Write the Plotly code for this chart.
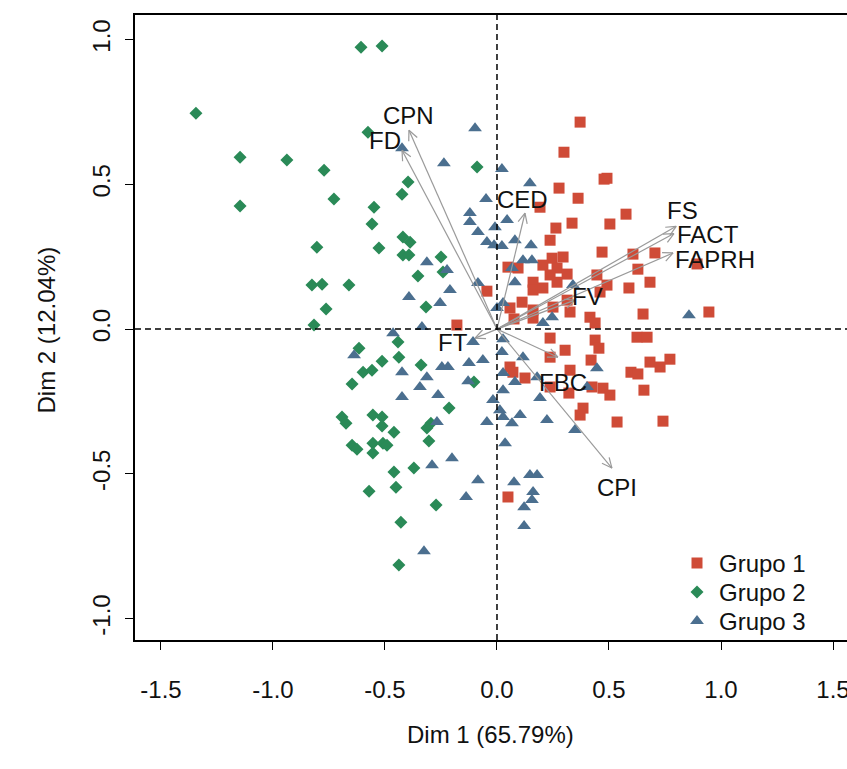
import math
import plotly.graph_objects as go

# ---------------- data ----------------
g1_x = [0.371, 0.299, 0.491, 0.277, 0.362, 0.478, 0.504, 0.335, 0.263, 0.237, 0.192, 0.469, 0.295, 0.246,
        0.205, 0.268, 0.049, 0.094, 0.313, 0.237, 0.446, 0.268, 0.161, 0.491, 0.161, 0.205, -0.045, 0.460,
        0.313, 0.112, 0.058, 0.161, 0.250, 0.326, 0.415, 0.438, 0.076, 0.161, -0.179,
        0.576, 0.607, 0.705, 0.893, 0.629, 0.589, 0.683, 0.652, 0.946, 0.625, 0.670,
        0.237, 0.304, 0.237, 0.438, 0.455, 0.420, 0.326, 0.058, 0.071, 0.125, 0.237, 0.321, 0.424, 0.473,
        0.504, 0.384, 0.371, 0.049,
        0.772, 0.683, 0.728, 0.598, 0.629, 0.656, 0.536, 0.741]
g1_y = [0.715, 0.611, 0.521, 0.487, 0.452, 0.518, 0.363, 0.366, 0.349, 0.307, 0.421, 0.266, 0.249, 0.245,
        0.221, 0.211, 0.214, 0.211, 0.190, 0.187, 0.187, 0.162, 0.162, 0.152, 0.135, 0.142, 0.131, 0.128,
        0.100, 0.093, 0.073, 0.066, 0.076, 0.059, 0.041, 0.021, 0.035, 0.038, 0.014,
        0.397, 0.259, 0.263, 0.225, 0.207, 0.142, 0.162, 0.052, 0.059, -0.028, -0.028,
        -0.031, -0.073, -0.097, -0.038, -0.066, -0.107, -0.142, -0.131, -0.149, -0.169, -0.200, -0.221, -0.200, -0.204,
        -0.228, -0.273, -0.297, -0.580,
        -0.104, -0.114, -0.131, -0.149, -0.155, -0.211, -0.321, -0.318]

g2_x = [-1.344, -1.147, -1.147, -0.938, -0.772, -0.607, -0.513, -0.576, -0.728, -0.549, -0.558, -0.804,
        -0.826, -0.781, -0.661, -0.763, -0.817, -0.089, -0.397, -0.424, -0.420, -0.388, -0.527, -0.420,
        -0.393, -0.250, -0.241, -0.353, -0.317,
        -0.616, -0.598, -0.558, -0.647, -0.692, -0.674, -0.554, -0.647, -0.625, -0.554, -0.554, -0.571,
        -0.442, -0.438, -0.513, -0.339, -0.103, -0.214, -0.513, -0.513, -0.460, -0.295, -0.313, -0.304,
        -0.509, -0.491, -0.460, -0.371, -0.451, -0.272, -0.429, -0.438]
g2_y = [0.746, 0.594, 0.425, 0.584, 0.549, 0.974, 0.978, 0.680, 0.449, 0.421, 0.363, 0.283,
        0.152, 0.155, 0.152, 0.069, 0.014, 0.560, 0.508, 0.466, 0.318, 0.300, 0.280, 0.256,
        0.256, 0.249, 0.197, 0.183, 0.076,
        -0.066, -0.149, -0.142, -0.190, -0.304, -0.325, -0.297, -0.401, -0.415, -0.394, -0.428, -0.560,
        -0.045, -0.097, -0.111, -0.124, -0.183, -0.273, -0.304, -0.335, -0.356, -0.325, -0.342, -0.387,
        -0.394, -0.401, -0.494, -0.480, -0.546, -0.608, -0.667, -0.815]

g3_x = [-0.098, -0.424, -0.237, 0.022, 0.147, -0.049, -0.121, -0.121, 0.045, -0.009, -0.085, -0.045,
        -0.013, 0.022, 0.080, 0.152, 0.116, 0.156, 0.067, -0.313, -0.223, 0.080, -0.085, -0.210, -0.393,
        -0.254, 0.000, 0.027, 0.339, 0.205, 0.246, -0.335, -0.464, 0.857, -0.638,
        0.027, -0.107, 0.022, 0.116, -0.063, -0.125, -0.219, -0.246, -0.424, -0.313, -0.344, 0.027, 0.080,
        -0.129, -0.263, -0.424, 0.027, 0.179, 0.192, 0.446, 0.402, -0.018, 0.013, 0.027, 0.067, 0.103,
        -0.045, 0.223, 0.348, -0.268, 0.036, -0.201, -0.290, -0.085, 0.076, 0.147, 0.179, 0.161, -0.138,
        0.121, 0.156, 0.121, -0.326]
g3_y = [0.694, 0.625, 0.573, 0.553, 0.504, 0.449, 0.401, 0.370, 0.377, 0.352, 0.335, 0.301,
        0.290, 0.287, 0.307, 0.290, 0.238, 0.238, 0.211, 0.231, 0.204, 0.162, 0.159, 0.135, 0.111,
        0.090, 0.073, 0.090, 0.152, 0.021, 0.041, 0.007, -0.014, 0.048, -0.090,
        -0.035, -0.045, -0.079, -0.097, -0.107, -0.117, -0.131, -0.131, -0.149, -0.166, -0.200, -0.152, -0.183,
        -0.180, -0.228, -0.235, -0.211, -0.166, -0.238, -0.135, -0.200, -0.245, -0.280, -0.304, -0.325, -0.297,
        -0.321, -0.314, -0.349, -0.321, -0.394, -0.446, -0.470, -0.522, -0.529, -0.504, -0.504, -0.563, -0.580,
        -0.615, -0.590, -0.680, -0.767]

var_names = ["CPN", "FD", "CED", "FS", "FACT", "FAPRH", "FV", "FT", "FBC", "CPI"]
var_x = [-0.393, -0.424, 0.125, 0.800, 0.790, 0.786, 0.348, -0.098, 0.272, 0.513]
var_y = [0.687, 0.618, 0.401, 0.355, 0.330, 0.263, 0.100, -0.031, -0.097, -0.480]
lab_x = [-0.397, -0.500, 0.116, 0.826, 0.942, 0.973, 0.402, -0.196, 0.295, 0.536]
lab_y = [0.739, 0.653, 0.446, 0.410, 0.328, 0.242, 0.111, -0.045, -0.183, -0.546]

group_names = ["Grupo 1", "Grupo 2", "Grupo 3"]
x_ticks = [-1.5, -1.0, -0.5, 0.0, 0.5, 1.0, 1.5]
y_ticks = [-1.0, -0.5, 0.0, 0.5, 1.0]

# ---------------- layout geometry ----------------
W, H = 847, 769
ML, MR, MT, MB = 135, 0, 15, 129
x_range = [-1.616, 1.5625]
y_range = [-1.074, 1.085]
plot_w = W - ML - MR
plot_h = H - MT - MB
sx = plot_w / (x_range[1] - x_range[0])
sy = plot_h / (y_range[1] - y_range[0])

RED, GREEN, BLUE = "#CF4B37", "#2A8A57", "#4B6F8F"
COLORS = [RED, GREEN, BLUE]
SYMBOLS = ["square", "diamond", "triangle-up"]
SIZES = [11, 10, 12]
FONT = "Liberation Sans, Arial, sans-serif"
TXT = "#111111"
FS = 24

fig = go.Figure()
for name, gx, gy, col, sym, sz in zip(group_names, [g1_x, g2_x, g3_x], [g1_y, g2_y, g3_y],
                                      COLORS, SYMBOLS, SIZES):
    fig.add_trace(go.Scatter(x=gx, y=gy, mode="markers", name=name, showlegend=False,
                             marker=dict(symbol=sym, size=sz, color=col, opacity=1, line=dict(width=0))))

# arrows (shaft + open V head), computed from variable coordinates
ax_, ay_ = [], []
L, A = 11.0, math.radians(25)
for vx, vy in zip(var_x, var_y):
    ax_ += [0, vx, None]
    ay_ += [0, vy, None]
    px, py = vx * sx, vy * sy
    th = math.atan2(py, px)
    for s in (1, -1):
        hx = px - L * math.cos(th + s * A)
        hy = py - L * math.sin(th + s * A)
        ax_ += [vx, hx / sx, None]
        ay_ += [vy, hy / sy, None]
fig.add_trace(go.Scatter(x=ax_, y=ay_, mode="lines", showlegend=False, hoverinfo="skip",
                         line=dict(color="#9a9a9a", width=1.2)))

for n, lx, ly in zip(var_names, lab_x, lab_y):
    fig.add_annotation(x=lx, y=ly, text=n, showarrow=False, xref="x", yref="y",
                       font=dict(family=FONT, size=FS, color=TXT))

# manual legend on a pixel-based overlay axis (R-style compact rows)
leg_mx, leg_tx, leg_y0, leg_dy = 697, 717, 563, 29
fig.add_trace(go.Scatter(
    x=[leg_mx] * 3, y=[leg_y0 + i * leg_dy for i in range(3)], xaxis="x2", yaxis="y2",
    mode="markers", showlegend=False, hoverinfo="skip",
    marker=dict(symbol=SYMBOLS, size=SIZES, color=COLORS, opacity=1, line=dict(width=0))))
for i, name in enumerate(group_names):
    fig.add_annotation(x=leg_tx, y=leg_y0 + i * leg_dy, xref="x2", yref="y2", text=name,
                       showarrow=False, xanchor="left", yanchor="middle",
                       font=dict(family=FONT, size=FS, color=TXT))

# dashed zero lines
fig.add_shape(type="line", xref="x", yref="paper", x0=0, x1=0, y0=0, y1=1,
              line=dict(color="black", width=1.5, dash="6px,4px"))
fig.add_shape(type="line", xref="paper", yref="y", x0=0, x1=1, y0=0, y1=0,
              line=dict(color="black", width=1.5, dash="6px,4px"))

# axis titles
fig.add_annotation(x=(490 - ML) / plot_w, y=(MT + plot_h - 750) / plot_h, xref="paper", yref="paper",
                   text="Dim 1 (65.79%)", showarrow=False, font=dict(family=FONT, size=FS, color=TXT))
fig.add_annotation(x=(30 - ML) / plot_w, y=(MT + plot_h - 330) / plot_h, xref="paper", yref="paper",
                   text="Dim 2 (12.04%)", showarrow=False, textangle=-90,
                   font=dict(family=FONT, size=FS, color=TXT))

fig.update_layout(
    template="none",
    width=W, height=H, margin=dict(l=ML, r=MR, t=MT, b=MB, autoexpand=False),
    paper_bgcolor="white", plot_bgcolor="white",
    font=dict(family=FONT, size=FS, color=TXT),
    showlegend=False,
    xaxis=dict(range=x_range, tickvals=x_ticks, ticktext=[f"{v:.1f}" for v in x_ticks],
               showgrid=False, zeroline=False, showline=True, mirror=True, linecolor="black", linewidth=1.5,
               ticks="outside", ticklen=8, tickcolor="black", tickwidth=1, ticklabelstandoff=19,
               ticklabeloverflow="allow", automargin=False),
    yaxis=dict(range=y_range, tickvals=y_ticks, ticktext=[f"{v:.1f}" for v in y_ticks],
               showgrid=False, zeroline=False, showline=True, mirror=False, linecolor="black", linewidth=1.5,
               ticks="outside", ticklen=8, tickcolor="black", tickwidth=1, tickangle=-90,
               ticklabelstandoff=6, automargin=False),
    xaxis2=dict(overlaying="x", range=[ML, W - MR], visible=False, fixedrange=True, automargin=False),
    yaxis2=dict(overlaying="y", range=[MT + plot_h, MT], visible=False, fixedrange=True, automargin=False),
)

fig.write_html("out.html")
